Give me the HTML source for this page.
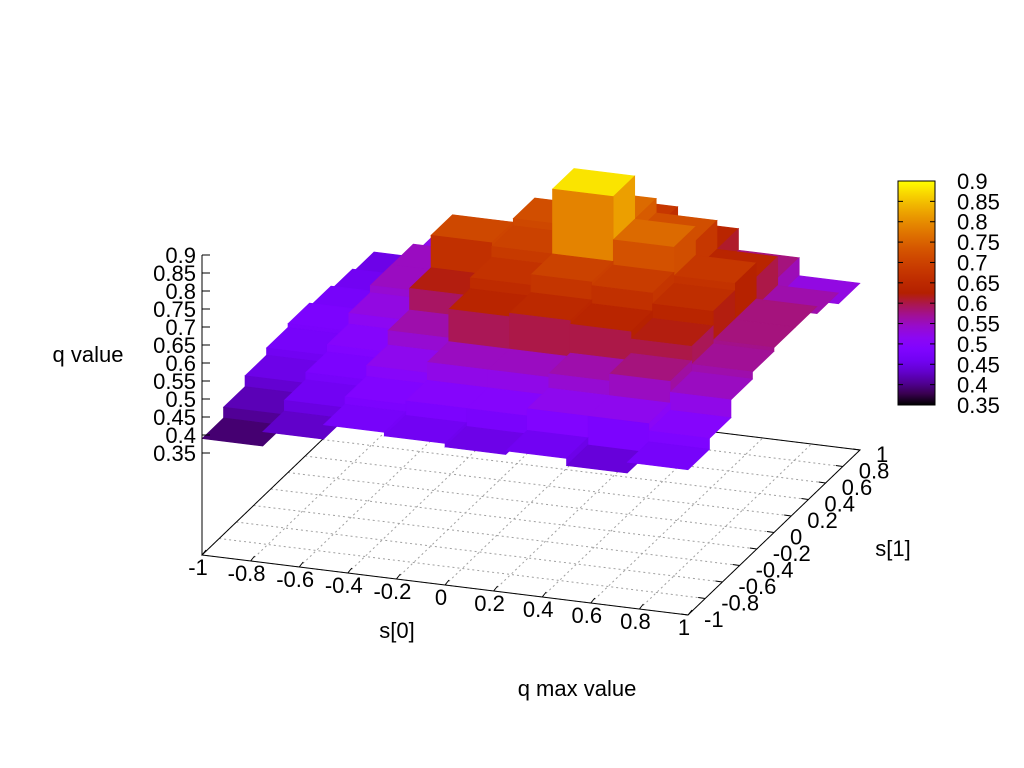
<!DOCTYPE html>
<html><head><meta charset="utf-8"><style>
html,body{margin:0;padding:0;background:#fff}
svg{display:block}
text{font-family:"Liberation Sans",sans-serif;font-size:22px;fill:#000}
</style></head><body>
<svg id="chart" width="1024" height="768" viewBox="0 0 1024 768">
<defs>
<linearGradient id="cbgrad" x1="0" y1="1" x2="0" y2="0"></linearGradient>
</defs>
<g id="base"></g>
<g id="surf"></g>
<g id="axes"></g>
<text x="88" y="362" text-anchor="middle">q value</text>
<text x="397" y="638" text-anchor="middle">s[0]</text>
<text x="893" y="556" text-anchor="middle">s[1]</text>
<text x="577" y="696" text-anchor="middle">q max value</text>
<g id="cb"></g>
</svg>
<script>
const xTicks=[-1,-0.8,-0.6,-0.4,-0.2,0,0.2,0.4,0.6,0.8,1];
const yTicks=[-1,-0.8,-0.6,-0.4,-0.2,0,0.2,0.4,0.6,0.8,1];
const zTicks=[0.35,0.4,0.45,0.5,0.55,0.6,0.65,0.7,0.75,0.8,0.85,0.9];
const cbTicks=[0.35,0.4,0.45,0.5,0.55,0.6,0.65,0.7,0.75,0.8,0.85,0.9];
const gridCentersX=[-0.875,-0.625,-0.375,-0.125,0.125,0.375,0.625,0.875];
const gridCentersY=[-0.875,-0.625,-0.375,-0.125,0.125,0.375,0.625,0.875];
// rows from front (y=-1) to back (y=1), columns x -1..1
const row0=[0.39,0.43,0.47,0.46,0.45,0.46,0.44,0.47];
const row1=[0.42,0.46,0.49,0.50,0.50,0.52,0.52,0.50];
const row2=[0.45,0.48,0.52,0.55,0.55,0.56,0.58,0.55];
const row3=[0.47,0.50,0.56,0.64,0.65,0.64,0.62,0.57];
const row4=[0.48,0.53,0.62,0.67,0.70,0.69,0.66,0.58];
const row5=[0.47,0.55,0.71,0.70,0.88,0.76,0.68,0.58];
const row6=[0.46,0.55,0.62,0.72,0.76,0.72,0.64,0.56];
const row7=[0.45,0.52,0.58,0.64,0.68,0.64,0.58,0.53];
const rows=[row0,row1,row2,row3,row4,row5,row6,row7];
const cbMin=0.35,cbMax=0.9,zMin=0.35;

const NS="http://www.w3.org/2000/svg";
function P(x,y,z){
  const sx=202+(x+1)/2*486+(y+1)/2*172;
  const sy=555+(x+1)/2*60-(y+1)/2*165;
  if(z===undefined) return [sx,sy];
  return [sx,sy-102-(z-zMin)*360];
}
function pal(v){
  let g=(v-cbMin)/(cbMax-cbMin);g=Math.max(0,Math.min(1,g));
  const r=Math.sqrt(g),gg=g*g*g,b=Math.max(0,Math.sin(2*Math.PI*g));
  return `rgb(${Math.round(r*255)},${Math.round(gg*255)},${Math.round(b*255)})`;
}
function el(tag,attrs,parent){const e=document.createElementNS(NS,tag);for(const k in attrs)e.setAttribute(k,attrs[k]);parent.appendChild(e);return e;}
const base=document.getElementById('base'),surf=document.getElementById('surf'),axes=document.getElementById('axes'),cb=document.getElementById('cb');
xTicks.forEach(t=>{const a=P(t,-1),b=P(t,1);
  const l=el('line',{x1:a[0],y1:a[1],x2:b[0],y2:b[1],stroke:'#a0a0a0','stroke-width':1,'stroke-dasharray':'2,3'},base);
  
  });
yTicks.forEach(t=>{const a=P(-1,t),b=P(1,t);
  const l=el('line',{x1:a[0],y1:a[1],x2:b[0],y2:b[1],stroke:'#a0a0a0','stroke-width':1,'stroke-dasharray':'2,3'},base);
  
  });
const c=[P(-1,-1),P(1,-1),P(1,1),P(-1,1)];
const border=el('polygon',{points:c.map(p=>p.join(',')).join(' '),fill:'none',stroke:'#000','stroke-width':1},base);


const n=rows.length,h=0.125;
function quad(pts,fill,name){
  const q=el('polygon',{points:pts.map(p=>p.join(',')).join(' '),fill:fill,stroke:fill,'stroke-width':0.6},surf);
  
  
}
for(let j=n-1;j>=0;j--){
  for(let i=0;i<n;i++){
    const z=rows[j][i],cx=gridCentersX[i],cy=gridCentersY[j];
    const x0=cx-h,x1=cx+h,y0=cy-h,y1=cy+h;
    quad([P(x0,y0,z),P(x1,y0,z),P(x1,y1,z),P(x0,y1,z)],pal(z),'surface-cell');
    if(i<n-1){const zn=rows[j][i+1];if(zn<z)quad([P(x1,y0,z),P(x1,y1,z),P(x1,y1,zn),P(x1,y0,zn)],pal((z+zn)/2),'surface-side-wall');}
    if(j>0){const zn=rows[j-1][i];if(zn<z)quad([P(x0,y0,z),P(x1,y0,z),P(x1,y0,zn),P(x0,y0,zn)],pal((z+zn)/2),'surface-front-wall');}
  }
}
const zTop=P(-1,-1,0.9),zBot=P(-1,-1);
const za=el('line',{x1:zTop[0],y1:zTop[1],x2:zBot[0],y2:zBot[1],stroke:'#000','stroke-width':1},axes);


zTicks.forEach(t=>{const p=P(-1,-1,t);
  const tk=el('line',{x1:p[0],y1:p[1],x2:p[0]+8,y2:p[1],stroke:'#000'},axes);
  
  
  const tx=el('text',{x:p[0]-6,y:p[1]+8,'text-anchor':'end'},axes);tx.textContent=t;
  
  });
xTicks.forEach(t=>{const p=P(t,-1);
  const tk=el('line',{x1:p[0],y1:p[1],x2:p[0]+4,y2:p[1]-5,stroke:'#000'},axes);
  
  
  const tx=el('text',{x:p[0]-4,y:p[1]+20,'text-anchor':'middle'},axes);tx.textContent=t;
  
  });
yTicks.forEach(t=>{const p=P(1,t);
  const tk=el('line',{x1:p[0],y1:p[1],x2:p[0]-7,y2:p[1]-1,stroke:'#000'},axes);
  
  
  const tx=el('text',{x:p[0]+16,y:p[1]+12,'text-anchor':'start'},axes);tx.textContent=t;
  
  });
const cbX=898,cbW=37,cbTop=181,cbBot=405;
const grad=document.getElementById('cbgrad');
for(let k=0;k<=20;k++){el('stop',{offset:(k/20),'stop-color':pal(cbMin+(cbMax-cbMin)*k/20)},grad);}
const rect=el('rect',{x:cbX,y:cbTop,width:cbW,height:cbBot-cbTop,fill:'url(#cbgrad)',stroke:'#000','stroke-width':1},cb);


cbTicks.forEach(t=>{const y=cbBot-(t-cbMin)/(cbMax-cbMin)*(cbBot-cbTop);
  el('line',{x1:cbX,y1:y,x2:cbX+5,y2:y,stroke:'#000'},cb);
  el('line',{x1:cbX+cbW-5,y1:y,x2:cbX+cbW,y2:y,stroke:'#000'},cb);
  const tx=el('text',{x:957,y:y+8,'text-anchor':'start'},cb);tx.textContent=t;
  
  });
</script>
</body></html>
